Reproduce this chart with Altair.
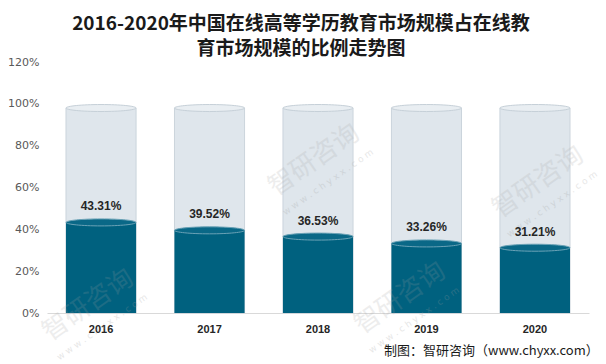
import altair as alt
import pandas as pd

years = ["2016", "2017", "2018", "2019", "2020"]
values = [43.31, 39.52, 36.53, 33.26, 31.21]
labels = ["43.31%", "39.52%", "36.53%", "33.26%", "31.21%"]
cylinder_top = 98  # percent, background cylinder height as drawn
title_lines = ["2016-2020年中国在线高等学历教育市场规模占在线教", "育市场规模的比例走势图"]
footer_text = "制图：智研咨询（www.chyxx.com）"
wm_main = "智研咨询"
wm_sub = "w w w . c h y x x . c o m"
# watermark centres (page px) - decorative
wm_x = [88, 400, 314, 538]
wm_y = [305, 298, 160, 182]

df = pd.DataFrame({
    "year": years,
    "value": [v / 100 for v in values],
    "label": labels,
    "full": [cylinder_top / 100] * len(years),
    "zero": [0.0] * len(years),
})

W, H = 542, 251
OX, OY = 47, 62
ELLIPSE = "M-1,0 A1,0.1 0 1,1 1,0 A1,0.1 0 1,1 -1,0 Z"

x = alt.X("year:N", title=None,
          scale=alt.Scale(paddingInner=0.354, paddingOuter=0.175),
          axis=alt.Axis(labelAngle=0, labelFontWeight="bold", labelFontSize=11,
                        labelColor="#262626", labelFont="Liberation Sans",
                        labelPadding=10, domainColor="#d9d9d9", ticks=False))
y_scale = alt.Scale(domain=[0, 1.2])
y = alt.Y("value:Q", title=None, scale=y_scale,
          axis=alt.Axis(format=".0%", values=[0, 0.2, 0.4, 0.6, 0.8, 1.0, 1.2],
                        grid=False, domain=False, ticks=False, labelColor="#595959",
                        labelFontSize=11, labelFont="DejaVu Sans", labelPadding=8))

base = alt.Chart(df)

bg = base.mark_bar(color="#dfe6ec", stroke="#cbd4dc", strokeWidth=1).encode(
    x=x, y=alt.Y("full:Q", scale=y_scale), y2="zero:Q")
bg_top = base.mark_point(shape=ELLIPSE, size=4900, filled=True, fill="#e9eef2",
                         stroke="#c6d0d8", strokeWidth=1, opacity=1).encode(
    x=x, y=alt.Y("full:Q", scale=y_scale))
fg = base.mark_bar(color="#00617f").encode(x=x, y=y)
fg_top = base.mark_point(shape=ELLIPSE, size=4900, filled=True, fill="#0a6887",
                         stroke="#6aa2b6", strokeWidth=1, opacity=1).encode(
    x=x, y=alt.Y("value:Q", scale=y_scale))
txt = base.mark_text(baseline="bottom", dy=-9, fontSize=12, fontWeight="bold",
                     font="Liberation Sans", color="#262626").encode(
    x=x, y=alt.Y("value:Q", scale=y_scale), text="label:N")

wdf = pd.DataFrame({"px": [v - OX for v in wm_x], "py": [v - OY for v in wm_y],
                    "sx": [v - OX + 14 for v in wm_x], "sy": [v - OY + 22 for v in wm_y],
                    "t": [wm_main] * len(wm_x), "s": [wm_sub] * len(wm_x)})
wm1 = alt.Chart(wdf).mark_text(fontSize=26, font="Noto Sans CJK SC",
                               angle=325, color="#a0a0a0", opacity=0.18).encode(
    x=alt.X("px:Q", scale=None), y=alt.Y("py:Q", scale=None), text="t:N")
wm2 = alt.Chart(wdf).mark_text(fontSize=9, font="DejaVu Sans",
                               angle=325, color="#a0a0a0", opacity=0.25).encode(
    x=alt.X("sx:Q", scale=None), y=alt.Y("sy:Q", scale=None), text="s:N")

tdf = pd.DataFrame({"t": title_lines, "yy": [-38, -13]})
title = alt.Chart(tdf).mark_text(fontSize=19, fontWeight="bold", font="Noto Sans CJK SC",
                                 color="#1a1a1a", align="center", baseline="middle").encode(
    x=alt.value(254), y=alt.Y("yy:Q", scale=None), text="t:N")

fdf = pd.DataFrame({"t": [footer_text]})
footer = alt.Chart(fdf).mark_text(fontSize=13, font="Noto Sans CJK SC", color="#1a1a1a",
                                  align="left", baseline="middle").encode(
    x=alt.value(337), y=alt.value(289), text="t:N")

chart = alt.layer(bg, fg, bg_top, fg_top, wm1, wm2, txt, title, footer).properties(
    width=W, height=H,
    autosize=alt.AutoSizeParams(type="none"),
    padding={"left": 39, "top": 54, "right": 9, "bottom": 50},
    background="white",
).configure_view(stroke=None)

chart.save("out.html", embed_options={"renderer": "svg", "actions": False})
